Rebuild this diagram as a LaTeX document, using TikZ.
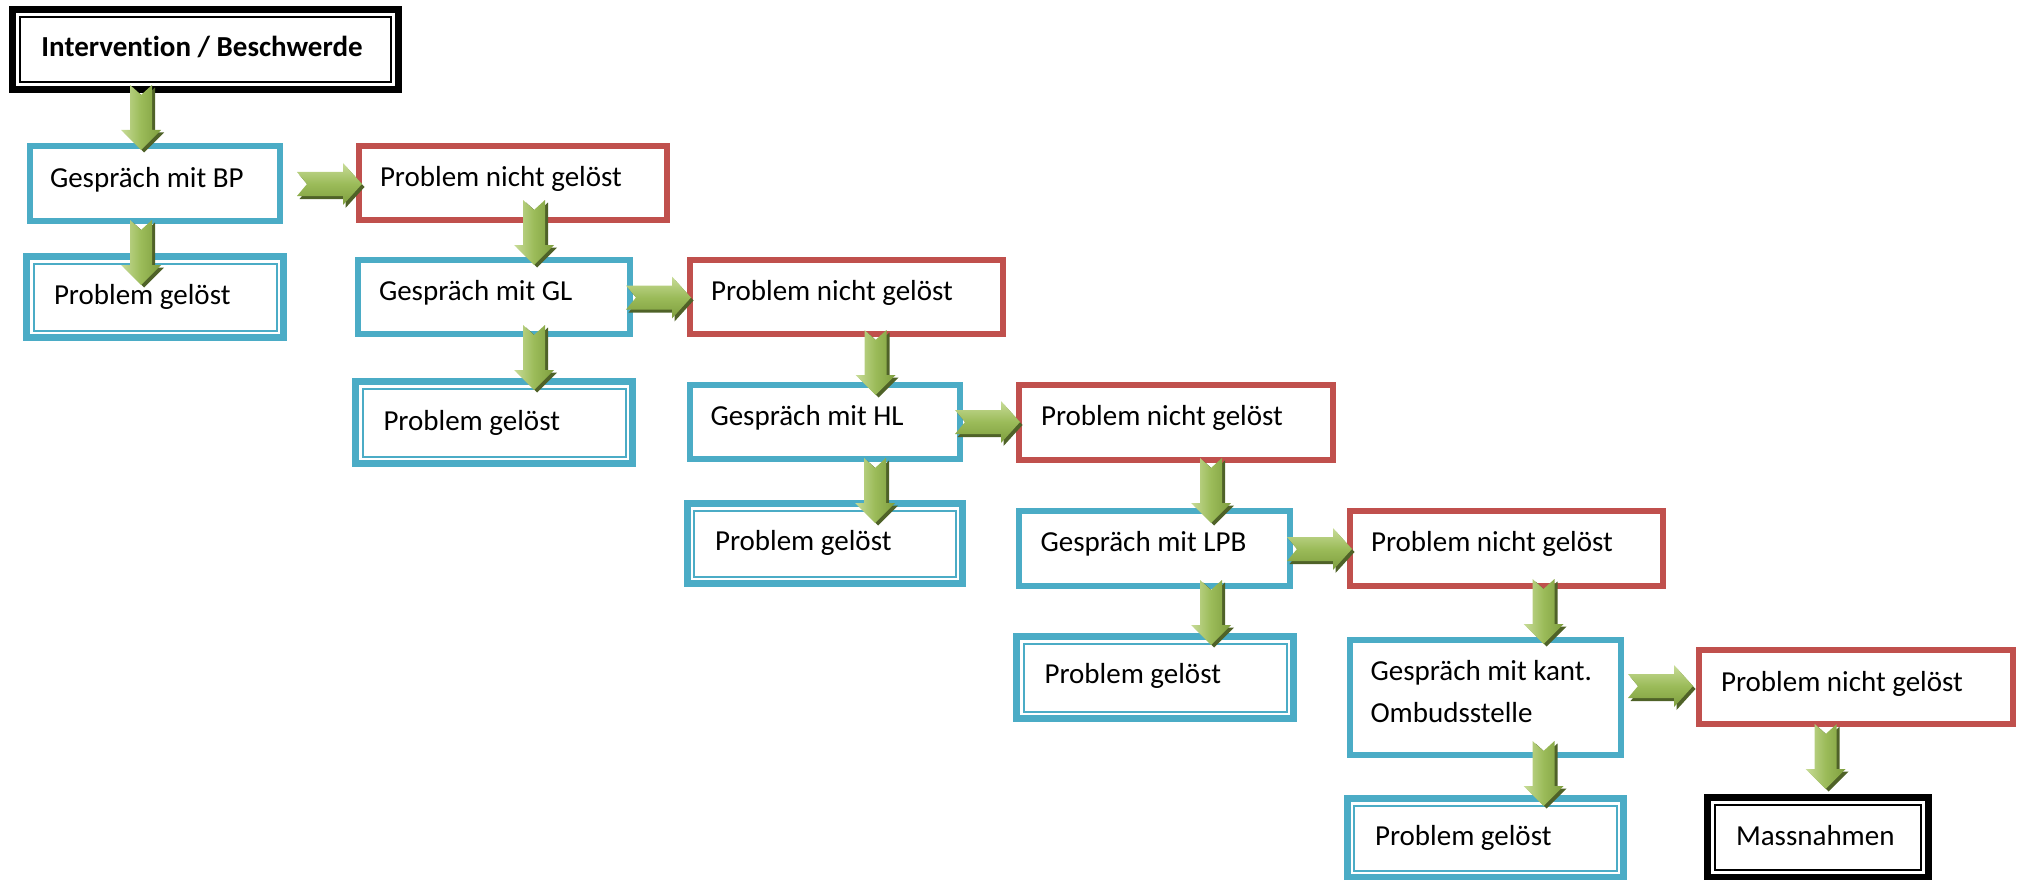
\documentclass[tikz,border=0pt]{standalone}
\usepackage{fontspec}
\setmainfont{Carlito}[Ligatures={NoCommon}]
\usetikzlibrary{calc}
\definecolor{boxblue}{HTML}{4BACC6}
\definecolor{boxred}{HTML}{C0504D}
\definecolor{arrlight}{HTML}{C8DC98}
\definecolor{arrmid}{HTML}{9BBB59}
\definecolor{arrdark}{HTML}{7E9E3E}
\definecolor{arrshadow}{HTML}{4F6228}
\tikzset{
  boxbase/.style={draw, rectangle, fill=white, inner sep=0pt, outer sep=0pt},
  bluebox/.style={boxbase, draw=boxblue, line width=6pt},
  redbox/.style={boxbase, draw=boxred, line width=6pt},
  blueframe/.style={boxbase, draw=boxblue, line width=7pt},
  blackframe/.style={boxbase, draw=black, line width=7pt},
  lbl/.style={anchor=base west, inner sep=0pt, outer sep=0pt, font=\fontsize{29}{42}\selectfont, align=left},
}
% inner thin frame of a double-bordered box
\newcommand\innerframe[3]{%
  \draw[#2, line width=2pt] ($(#1.north west)+(#3,#3)$) rectangle ($(#1.south east)+(-#3,-#3)$);}
% block arrow pointing down, tip at #1
\newcommand\vblockarrow[1]{%
  \begin{scope}[shift={#1}]
    \fill[arrshadow, shift={(3,2.5)}] (-11,-65) -- (0,-55) -- (11,-65) -- (11,-20) -- (20,-20) -- (0,0) -- (-20,-20) -- (-11,-20) -- cycle;
    \shade[left color=arrlight, right color=arrdark, middle color=arrmid] (-11,-65) -- (0,-55) -- (11,-65) -- (11,-20) -- (20,-20) -- (0,0) -- (-20,-20) -- (-11,-20) -- cycle;
  \end{scope}}
% block arrow pointing right, tip at #1
\newcommand\hblockarrow[1]{%
  \begin{scope}[shift={#1}]
    \fill[arrshadow, shift={(2.5,3)}] (-65,-12) -- (-19,-12) -- (-19,-21) -- (0,0) -- (-19,21) -- (-19,12) -- (-65,12) -- (-55,0) -- cycle;
    \shade[top color=arrlight, bottom color=arrdark, middle color=arrmid] (-65,-12) -- (-19,-12) -- (-19,-21) -- (0,0) -- (-19,21) -- (-19,12) -- (-65,12) -- (-55,0) -- cycle;
  \end{scope}}
\begin{document}
\begin{tikzpicture}[x=1pt, y=-1pt]
\useasboundingbox (0,0) rectangle (2019,880);

% ---------- boxes ----------
\node[blackframe, minimum width=386pt, minimum height=80pt] (int) at (205.5,49.5) {};
\innerframe{int}{black}{7.8}
\node[lbl, font=\fontsize{29}{42}\selectfont\bfseries] (int-t) at ($(int.north west)+(29,47.5)$) {Intervention / Beschwerde};

\node[bluebox, minimum width=250pt, minimum height=75pt] (bp) at (155,183.5) {};
\node[lbl] (bp-t) at ($(bp.north west)+(20,41)$) {Gespräch mit BP};

\node[blueframe, minimum width=257pt, minimum height=81pt] (pg1) at (155,297) {};
\innerframe{pg1}{boxblue}{7}
\node[lbl] (pg1-t) at ($(pg1.north west)+(27.5,47.5)$) {Problem gelöst};

\node[redbox, minimum width=308pt, minimum height=74pt] (png1) at (513,183) {};
\node[lbl] (png1-t) at ($(png1.north west)+(21,40)$) {Problem nicht gelöst};

\node[bluebox, minimum width=272pt, minimum height=74pt] (gl) at (494,297) {};
\node[lbl] (gl-t) at ($(gl.north west)+(21,40.5)$) {Gespräch mit GL};

\node[redbox, minimum width=313pt, minimum height=74pt] (png2) at (846.5,297) {};
\node[lbl] (png2-t) at ($(png2.north west)+(21,40.5)$) {Problem nicht gelöst};

\node[blueframe, minimum width=277pt, minimum height=82pt] (pg2) at (494,422.5) {};
\innerframe{pg2}{boxblue}{7}
\node[lbl] (pg2-t) at ($(pg2.north west)+(28,48.5)$) {Problem gelöst};

\node[bluebox, minimum width=270pt, minimum height=74pt] (hl) at (825,422) {};
\node[lbl] (hl-t) at ($(hl.north west)+(20.5,40)$) {Gespräch mit HL};

\node[redbox, minimum width=314pt, minimum height=75pt] (png3) at (1176,422.5) {};
\node[lbl] (png3-t) at ($(png3.north west)+(22,40)$) {Problem nicht gelöst};

\node[blueframe, minimum width=275.5pt, minimum height=80pt] (pg3) at (824.75,543.5) {};
\innerframe{pg3}{boxblue}{7}
\node[lbl] (pg3-t) at ($(pg3.north west)+(28,46.5)$) {Problem gelöst};

\node[bluebox, minimum width=271pt, minimum height=75pt] (lpb) at (1154.5,548.5) {};
\node[lbl] (lpb-t) at ($(lpb.north west)+(21.5,40.7)$) {Gespräch mit LPB};

\node[redbox, minimum width=313pt, minimum height=75pt] (png4) at (1506.5,548.5) {};
\node[lbl] (png4-t) at ($(png4.north west)+(21,40.7)$) {Problem nicht gelöst};

\node[blueframe, minimum width=277pt, minimum height=82pt] (pg4) at (1155,677.5) {};
\innerframe{pg4}{boxblue}{7}
\node[lbl] (pg4-t) at ($(pg4.north west)+(28,47)$) {Problem gelöst};

\node[bluebox, minimum width=271pt, minimum height=115pt] (omb) at (1485.5,697.5) {};
\node[lbl] (omb-t1) at ($(omb.north west)+(20.5,40)$) {Gespräch mit kant.};
\node[lbl] (omb-t2) at ($(omb.north west)+(20.5,82)$) {Ombudsstelle};

\node[redbox, minimum width=314pt, minimum height=74pt] (png5) at (1856,687) {};
\node[lbl] (png5-t) at ($(png5.north west)+(22,41)$) {Problem nicht gelöst};

\node[blueframe, minimum width=276.5pt, minimum height=79pt] (pg5) at (1485.25,838) {};
\innerframe{pg5}{boxblue}{7}
\node[lbl] (pg5-t) at ($(pg5.north west)+(28,46.5)$) {Problem gelöst};

\node[blackframe, minimum width=221pt, minimum height=80pt] (mass) at (1818,837.5) {};
\innerframe{mass}{black}{7.5}
\node[lbl] (mass-t) at ($(mass.north west)+(28.5,47.5)$) {Massnahmen};

% ---------- arrows ----------
\vblockarrow{($(141,0 |- bp.north)+(0,4)$)}      % int -> bp
\vblockarrow{($(141,0 |- pg1.north)+(0,28.5)$)}  % bp -> pg1
\hblockarrow{($(png1.west)+(3,1)$)}              % bp -> png1
\vblockarrow{($(534,0 |- gl.north)+(0,5)$)}      % png1 -> gl
\vblockarrow{($(534,0 |- pg2.north)+(0,8.5)$)}   % gl -> pg2
\hblockarrow{($(png2.west)+(1,0.5)$)}            % gl -> png2
\vblockarrow{($(875.5,0 |- hl.north)+(0,10)$)}   % png2 -> hl
\vblockarrow{($(875,0 |- pg3.north)+(0,19.5)$)}  % hl -> pg3
\hblockarrow{($(png3.west)+(1,-0.5)$)}           % hl -> png3
\vblockarrow{($(1211,0 |- lpb.north)+(0,12)$)}   % png3 -> lpb
\vblockarrow{($(1211,0 |- pg4.north)+(0,8.5)$)}  % lpb -> pg4
\hblockarrow{($(png4.west)+(2,0.5)$)}            % lpb -> png4
\vblockarrow{($(1543.5,0 |- omb.north)+(0,4)$)}  % png4 -> omb
\vblockarrow{($(1543.5,0 |- pg5.north)+(0,7.5)$)}% omb -> pg5
\hblockarrow{($(png5.west)+(-6,-1)$)}            % omb -> png5
\vblockarrow{($(1825.7,0 |- mass.north)+(0,-8.5)$)}% png5 -> mass
\end{tikzpicture}
\end{document}
